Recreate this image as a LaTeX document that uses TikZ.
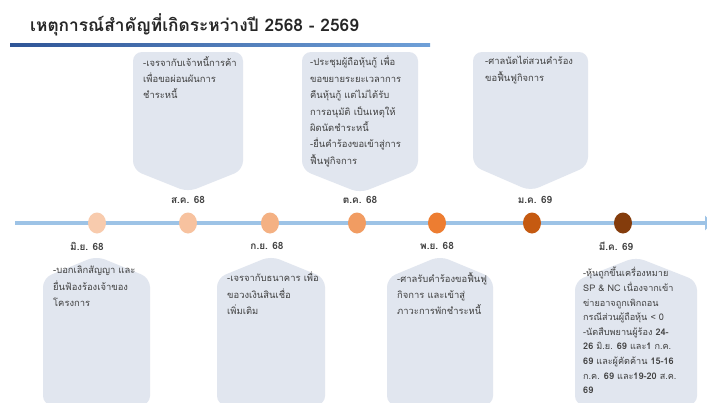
\documentclass[tikz,border=0pt]{standalone}
\usepackage{fontspec}
\setmainfont{Liberation Sans}
\newfontfamily\thai[Script=Thai]{Loma}
\usetikzlibrary{arrows.meta,shapes.geometric}
\definecolor{boxfill}{HTML}{E1E6EF}
\definecolor{txt}{HTML}{404040}
\definecolor{tline}{HTML}{9DC3E6}
\definecolor{ruleA}{HTML}{2F5597}
\definecolor{ruleB}{HTML}{6FA0D8}
\definecolor{cA}{HTML}{F8CBAD}
\definecolor{cB}{HTML}{F7C29F}
\definecolor{cC}{HTML}{F4B183}
\definecolor{cD}{HTML}{F19C62}
\definecolor{cE}{HTML}{ED7D31}
\definecolor{cF}{HTML}{C55A11}
\definecolor{cG}{HTML}{843C0C}
\newcommand\upcallout[5]{\fill[boxfill,rounded corners=9pt] (#1,#3) -- (#2,#3) -- (#2,#4) -- ({(#1+#2)/2},#5) -- (#1,#4) -- cycle;}
\newcommand\downcallout[5]{\fill[boxfill,rounded corners=9pt] (#1,#5) -- ({(#1+#2)/2},#3) -- (#2,#4) -- (#2,405) -- (#1,405) -- cycle;}
\begin{document}
\begin{tikzpicture}[x=1pt,y=-1pt,
  boxtext/.style={anchor=north west,inner sep=0pt,align=left,text=txt,font=\thai\fontsize{9.4}{16.4}\selectfont},
  datelbl/.style={inner sep=0pt,text=txt,font=\thai\bfseries\fontsize{10}{12}\selectfont},
  dot/.style={ellipse,minimum width=18pt,minimum height=21pt,inner sep=0pt,draw=none},
  timeline/.style={draw=tline,line width=4pt,-{Triangle[width=14pt,length=8pt]}}]
\useasboundingbox (0,0) rectangle (707,402);
\clip (0,0) rectangle (707,402);
\fill[white] (0,0) rectangle (707,402);
% title
\node[anchor=base west,inner sep=0pt,text=black!85,font=\thai\bfseries\fontsize{17.3}{20}\selectfont] (title) at (30,31) {เหตุการณ์สำคัญที่เกิดระหว่างปี 2568 - 2569};
\shade[left color=ruleA,right color=ruleB] (10,43.5) rectangle (430,46.5);
% callouts
\upcallout{133}{243}{52}{170}{192}
\upcallout{302}{418}{52}{170}{193}
\upcallout{473}{588}{52}{166}{191}
\downcallout{43}{150}{256}{278}{278}
\downcallout{217}{325}{256}{278}{278}
\downcallout{387}{493}{256}{278}{278}
\downcallout{575}{697}{257}{281}{281}
% timeline
\coordinate (tlstart) at (15,223);
\coordinate (tlend) at (713,223);
\draw[timeline] (tlstart) -- (tlend);
\node[dot,fill=cA] (d1) at (97,223) {};
\node[dot,fill=cB] (d2) at (188,223) {};
\node[dot,fill=cC] (d3) at (270,223) {};
\node[dot,fill=cD] (d4) at (357,223) {};
\node[dot,fill=cE] (d5) at (437,223) {};
\node[dot,fill=cF] (d6) at (532,223) {};
\node[dot,fill=cG] (d7) at (623,223) {};
% date labels
\node[datelbl] (l1) at (87,246) {มิ.ย. 68};
\node[datelbl] (l2) at (188,200) {ส.ค. 68};
\node[datelbl] (l3) at (267,246) {ก.ย. 68};
\node[datelbl] (l4) at (360,200) {ต.ค. 68};
\node[datelbl] (l5) at (437,246) {พ.ย. 68};
\node[datelbl] (l6) at (535,200) {ม.ค. 69};
\node[datelbl] (l7) at (616,246) {มี.ค. 69};
% texts
\node[boxtext] (t2) at (143,56) {-เจรจากับเจ้าหนี้การค้า\\เพื่อขอผ่อนผันการ\\ชำระหนี้};
\node[boxtext] (t4) at (310,56) {-ประชุมผู้ถือหุ้นกู้ เพื่อ\\ขอขยายระยะเวลาการ\\คืนหุ้นกู้ แต่ไม่ได้รับ\\การอนุมัติ เป็นเหตุให้\\ผิดนัดชำระหนี้\\-ยื่นคำร้องขอเข้าสู่การ\\ฟื้นฟูกิจการ};
\node[boxtext] (t6) at (485,56) {-ศาลนัดไต่สวนคำร้อง\\ขอฟื้นฟูกิจการ};
\node[boxtext] (t1) at (53,266) {-บอกเลิกสัญญา และ\\ยื่นฟ้องร้องเจ้าของ\\โครงการ};
\node[boxtext] (t3) at (227,272) {-เจรจากับธนาคาร เพื่อ\\ขอวงเงินสินเชื่อ\\เพิ่มเติม};
\node[boxtext] (t5) at (397,272) {-ศาลรับคำร้องขอฟื้นฟู\\กิจการ และเข้าสู่\\ภาวะการพักชำระหนี้};
\node[boxtext,font=\thai\fontsize{9.1}{14.6}\selectfont] (t7) at (583,267) {-หุ้นถูกขึ้นเครื่องหมาย\\SP \& NC เนื่องจากเข้า\\ข่ายอาจถูกเพิกถอน\\กรณีส่วนผู้ถือหุ้น < 0\\-นัดสืบพยานผู้ร้อง {\bfseries 24-}\\{\bfseries 26} มิ.ย. {\bfseries 69} และ{\bfseries 1} ก.ค.\\{\bfseries 69} และผู้คัดค้าน {\bfseries 15-16}\\ก.ค. {\bfseries 69} และ{\bfseries 19-20} ส.ค.\\{\bfseries 69}};
\end{tikzpicture}
\end{document}
